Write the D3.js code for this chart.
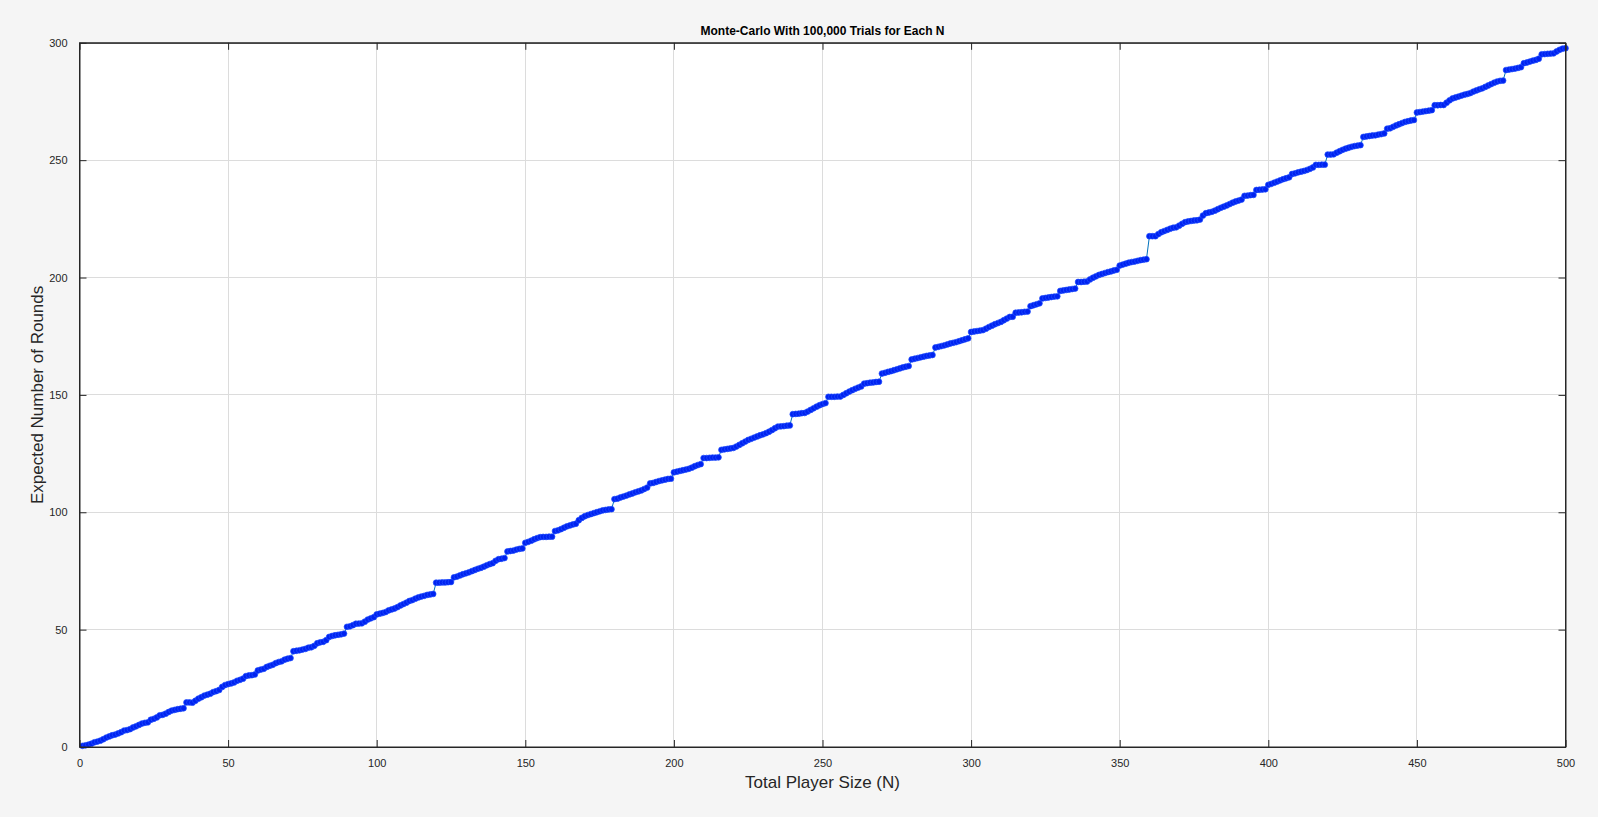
<!DOCTYPE html>
<html>
<head>
<meta charset="utf-8">
<script src="https://cdn.jsdelivr.net/npm/d3@7"></script>
<style>
html,body{margin:0;padding:0;background:#f5f5f5;}
svg{display:block;font-family:"Liberation Sans",Arial,Helvetica,sans-serif;}
</style>
</head>
<body>
<svg id="chart" width="1598" height="817"></svg>
<script>
const titleText = "Monte-Carlo With 100,000 Trials for Each N";
const xLabel = "Total Player Size (N)";
const yLabel = "Expected Number of Rounds";
const xTicks = [0,50,100,150,200,250,300,350,400,450,500];
const yTicks = [0,50,100,150,200,250,300];
const nStart = 1;
const rounds = [
0.5,0.7,1.0,1.4,2.0,2.3,2.7,3.3,4.0,4.5,
5.0,5.3,5.8,6.3,7.0,7.2,7.6,8.3,8.8,9.4,
10.0,10.3,10.5,11.6,12.0,12.6,13.5,13.7,14.2,14.9,
15.5,15.8,16.1,16.3,16.5,19.0,19.0,18.9,19.7,20.6,
21.2,21.9,22.3,22.7,23.4,23.8,24.3,25.6,26.4,26.8,
27.1,27.5,28.2,28.6,29.1,30.2,30.5,30.6,30.9,32.6,
33.0,33.3,34.1,34.6,35.0,35.7,36.2,36.5,37.2,37.6,
37.9,40.8,41.0,41.2,41.5,41.8,42.3,42.5,43.1,44.2,
44.6,44.8,45.5,46.9,47.3,47.6,47.8,48.0,48.3,51.2,
51.4,51.9,52.5,52.6,52.7,53.4,54.3,54.8,55.3,56.5,
56.8,57.1,57.5,58.2,58.6,59.0,59.6,60.3,60.9,61.5,
62.2,62.6,63.2,63.7,64.1,64.4,64.8,65.0,65.2,70.0,
70.0,70.1,70.1,70.2,70.3,72.3,72.6,73.1,73.6,74.0,
74.4,74.9,75.4,75.9,76.3,76.8,77.4,77.9,78.3,79.3,
80.0,80.2,80.5,83.3,83.5,83.7,84.1,84.4,84.6,87.0,
87.4,87.9,88.5,89.0,89.4,89.5,89.5,89.6,89.6,92.0,
92.3,92.8,93.4,94.0,94.4,94.8,95.1,96.6,97.6,98.3,
98.8,99.2,99.6,100.0,100.4,100.8,101.0,101.2,101.3,105.6,
105.8,106.3,106.7,107.1,107.6,108.0,108.5,108.9,109.3,109.9,
110.5,112.3,112.5,112.9,113.3,113.6,113.9,114.2,114.3,117.0,
117.3,117.6,117.9,118.2,118.5,119.0,119.6,120.1,120.5,123.1,
123.1,123.2,123.3,123.3,123.4,126.6,126.8,127.0,127.2,127.4,
128.0,128.7,129.4,130.1,130.8,131.3,131.8,132.3,132.8,133.2,
133.7,134.3,135.0,135.8,136.5,136.6,136.7,136.9,137.0,141.8,
141.9,142.0,142.2,142.3,142.9,143.6,144.3,145.0,145.6,146.1,
146.5,149.2,149.2,149.2,149.3,149.3,150.0,150.7,151.4,152.0,
152.6,153.1,153.6,154.8,155.0,155.2,155.3,155.5,155.6,159.1,
159.4,159.8,160.1,160.5,160.9,161.3,161.7,162.0,162.3,165.1,
165.4,165.7,166.0,166.3,166.6,166.8,167.0,170.2,170.5,170.8,
171.1,171.5,171.9,172.2,172.5,172.9,173.3,173.7,174.1,176.8,
177.0,177.2,177.4,177.6,178.2,178.9,179.5,180.1,180.6,181.1,
181.8,182.5,183.2,183.3,185.0,185.1,185.2,185.4,185.5,187.8,
188.2,188.6,189.0,191.1,191.3,191.5,191.7,191.9,192.0,194.3,
194.5,194.7,194.9,195.1,195.3,198.1,198.1,198.2,198.3,199.2,
199.9,200.5,201.1,201.5,201.9,202.3,202.6,203.0,203.3,205.1,
205.5,205.9,206.3,206.6,206.8,207.1,207.4,207.6,207.8,217.6,
217.6,217.6,218.5,219.3,219.8,220.3,220.8,221.2,221.4,222.1,
222.9,223.6,223.9,224.1,224.3,224.4,224.7,226.4,227.4,227.7,
228.0,228.5,229.1,229.7,230.2,230.7,231.3,231.9,232.4,232.8,
233.2,234.8,234.9,235.1,235.2,237.3,237.4,237.5,237.6,239.5,
239.9,240.4,240.9,241.4,241.9,242.3,242.7,244.1,244.4,244.8,
245.1,245.4,245.8,246.3,246.9,248.0,248.0,248.1,248.1,252.4,
252.4,252.5,253.2,253.8,254.4,254.9,255.3,255.7,256.0,256.2,
256.4,259.9,260.1,260.3,260.5,260.6,260.9,261.1,261.4,263.4,
263.6,264.2,264.8,265.3,265.8,266.3,266.6,266.9,267.1,270.3,
270.5,270.7,270.9,271.1,271.3,273.4,273.4,273.5,273.5,274.5,
275.5,276.3,276.7,277.1,277.5,277.9,278.2,278.6,279.2,279.7,
280.2,280.6,281.2,281.8,282.4,283.0,283.5,283.8,283.9,288.4,
288.6,288.8,289.0,289.3,289.6,291.3,291.6,292.0,292.4,292.7,
293.2,295.1,295.2,295.3,295.4,295.5,296.3,297.0,297.5,297.7
];

const data = rounds.map((v,i)=>({n:nStart+i, v:v}));

const svg = d3.select("#chart");
const L = 79.5, R = 1565.5, T = 42.8, B = 747;
const x = d3.scaleLinear().domain([0,500]).range([L,R]);
const y = d3.scaleLinear().domain([0,300]).range([B,T]);

svg.append("rect").attr("x",L).attr("y",T).attr("width",R-L).attr("height",B-T).attr("fill","#ffffff");

const grid = svg.append("g");
grid.selectAll(".gx").data(xTicks.slice(1,-1)).enter().append("line")
  .attr("x1",d=>x(d)).attr("x2",d=>x(d)).attr("y1",T).attr("y2",B)
  .attr("stroke","#dcdcdc").attr("stroke-width",1).attr("shape-rendering","crispEdges");
grid.selectAll(".gy").data(yTicks.slice(1,-1)).enter().append("line")
  .attr("y1",d=>y(d)).attr("y2",d=>y(d)).attr("x1",L).attr("x2",R)
  .attr("stroke","#dcdcdc").attr("stroke-width",1).attr("shape-rendering","crispEdges");

const line = d3.line().x(d=>x(d.n)).y(d=>y(d.v));
svg.append("path").datum(data).attr("d",line).attr("fill","none")
  .attr("stroke","#0072BD").attr("stroke-width",1);

svg.append("g").selectAll("circle").data(data).enter().append("circle")
  .attr("cx",d=>x(d.n)).attr("cy",d=>y(d.v)).attr("r",2.9)
  .attr("fill","#0022f0").attr("stroke","#1f4fff").attr("stroke-width",0.7);

const tickFmt = d3.format("d");
const axB = svg.append("g").attr("transform",`translate(0,${B})`)
  .call(d3.axisBottom(x).tickValues(xTicks).tickFormat(tickFmt).tickSizeInner(-7).tickSizeOuter(0).tickPadding(12));
const axT = svg.append("g").attr("transform",`translate(0,${T})`)
  .call(d3.axisTop(x).tickValues(xTicks).tickFormat("").tickSizeInner(-7).tickSizeOuter(0));
const axL = svg.append("g").attr("transform",`translate(${L},0)`)
  .call(d3.axisLeft(y).tickValues(yTicks).tickFormat(tickFmt).tickSizeInner(-7).tickSizeOuter(0).tickPadding(12));
const axR = svg.append("g").attr("transform",`translate(${R},0)`)
  .call(d3.axisRight(y).tickValues(yTicks).tickFormat("").tickSizeInner(-7).tickSizeOuter(0));
[axB,axT,axL,axR].forEach(a=>{
  a.select(".domain").attr("stroke","#262626").attr("stroke-width",1);
  a.selectAll(".tick line").attr("stroke","#262626");
  a.selectAll("text").attr("fill","#262626").style("font-size","11px");
});
svg.append("rect").attr("x",L).attr("y",T).attr("width",R-L).attr("height",B-T)
  .attr("fill","none").attr("stroke","#262626").attr("stroke-width",1);

svg.append("text").attr("x",(L+R)/2).attr("y",35).attr("text-anchor","middle")
  .attr("font-weight","bold").attr("font-size","12px").attr("fill","#000").text(titleText);
svg.append("text").attr("x",(L+R)/2).attr("y",788).attr("text-anchor","middle")
  .attr("font-size","17px").attr("fill","#262626").text(xLabel);
svg.append("text").attr("transform",`translate(43,${(T+B)/2}) rotate(-90)`).attr("text-anchor","middle")
  .attr("font-size","17px").attr("fill","#262626").text(yLabel);
</script>
</body>
</html>
